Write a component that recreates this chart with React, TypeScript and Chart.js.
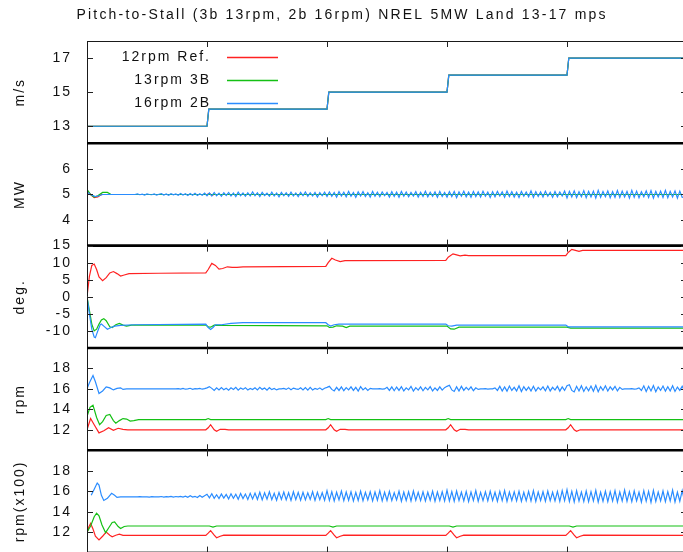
import React, { useEffect, useRef } from 'react';
import { Chart, registerables } from 'chart.js';

Chart.register(...registerables);

const FONT = '"Liberation Sans", Arial, Helvetica, sans-serif';
const TITLE = 'Pitch-to-Stall (3b 13rpm, 2b 16rpm) NREL 5MW Land 13-17 mps';
const SERIES_NAMES = ['12rpm Ref.', '13rpm 3B', '16rpm 2B'];
const SERIES_COLORS = ['#ff2222', '#14c014', '#2a8cff'];

const X_MIN = 0;
const X_MAX = 500;
const X_TICKS = [100, 200, 300, 400];

const PANEL_IDS = ['yWind', 'yPow', 'yPitch', 'yRpm', 'yGen'];
const PANEL_TITLES = ['m/s', 'MW', 'deg.', 'rpm', 'rpm(x100)'];
const PANEL_MIN = [12, 3, -15, 10, 10];
const PANEL_MAX = [18, 7, 15, 20, 20];
const PANEL_TICKS = [
  [13, 15, 17],
  [4, 5, 6],
  [-10, -5, 0, 5, 10, 15],
  [12, 14, 16, 18],
  [12, 14, 16, 18],
];

// sampled segments (regular time grid) start / step
const NOISE_T0 = 40;
const NOISE_DT = 2;

// ---------- wind speed (all three identical) ----------
const windKeys = [
  [0, 13], [100, 13], [101.5, 14], [200, 14], [201.5, 15], [300, 15],
  [301.5, 16], [400, 16], [401.5, 17], [500, 17],
];

// ---------- power (MW) ----------
const powRedKeys = [[0, 5.15], [3, 5.0], [6, 4.88], [9, 4.9], [12, 5.0], [100, 5.0], [102, 5.04], [104, 4.97], [106, 5.0], [500, 5.0]];
const powGreenKeys = [[0, 5.2], [3, 5.0], [6, 4.9], [9, 4.95], [13, 5.08], [17, 5.08], [20, 5.0], [500, 5.0]];
const powBlueKeys = [[0, 5.1], [3, 5.0], [7, 4.92], [10, 4.95], [13, 5.0], [38, 5.0]];
const powBlueSamples = [
  5.00, 5.02, 4.99, 5.01, 4.98, 5.02, 5.00, 4.99, 5.02, 4.98,
  5.01, 5.03, 4.98, 5.02, 4.97, 5.03, 4.99, 5.02, 4.97, 5.04,
  4.98, 5.03, 4.96, 5.04, 4.97, 5.05, 4.96, 5.03, 4.97, 5.05,
  4.95, 5.06, 4.94, 5.08, 4.95, 5.05, 4.93, 5.07, 4.96, 5.08,
  4.94, 5.06, 4.92, 5.09, 4.95, 5.06, 4.93, 5.07, 4.94, 5.10,
  4.95, 5.07, 4.92, 5.08, 4.96, 5.05, 4.93, 5.09, 4.94, 5.06,
  4.91, 5.08, 4.95, 5.07, 4.93, 5.09, 4.94, 5.06, 4.92, 5.08,
  4.95, 5.10, 4.93, 5.07, 4.94, 5.08, 4.90, 5.07, 4.95, 5.09,
  4.92, 5.10, 4.93, 5.08, 4.90, 5.11, 4.94, 5.09, 4.91, 5.12,
  4.93, 5.08, 4.89, 5.10, 4.94, 5.11, 4.92, 5.07, 4.90, 5.12,
  4.93, 5.09, 4.91, 5.10, 4.95, 5.08, 4.90, 5.11, 4.92, 5.09,
  4.89, 5.12, 4.93, 5.10, 4.91, 5.08, 4.94, 5.11, 4.90, 5.09,
  4.92, 5.13, 4.91, 5.09, 4.93, 5.10, 4.89, 5.12, 4.92, 5.08,
  4.90, 5.11, 4.92, 5.12, 4.88, 5.10, 4.93, 5.13, 4.91, 5.09,
  4.89, 5.12, 4.92, 5.10, 4.90, 5.13, 4.93, 5.09, 4.88, 5.11,
  4.91, 5.12, 4.94, 5.10, 4.89, 5.13, 4.92, 5.11, 4.90, 5.09,
  4.88, 5.12, 4.93, 5.10, 4.91, 5.14, 4.89, 5.11, 4.92, 5.10,
  4.90, 5.13, 4.93, 5.09, 4.89, 5.12, 4.91, 5.10, 4.94, 5.13,
  4.86, 5.12, 4.90, 5.14, 4.88, 5.11, 4.91, 5.15, 4.87, 5.12,
  4.90, 5.13, 4.86, 5.16, 4.89, 5.12, 4.91, 5.14, 4.87, 5.11,
  4.89, 5.15, 4.88, 5.13, 4.90, 5.12, 4.86, 5.16, 4.89, 5.13,
  4.87, 5.11, 4.91, 5.14, 4.88, 5.15, 4.86, 5.12, 4.90, 5.13,
  4.88, 5.16, 4.87, 5.12, 4.90, 5.14, 4.86, 5.13, 4.89, 4.90,
  5.10,
];

// ---------- blade pitch (deg) ----------
const pitchRedKeys = [
  [0, 0], [2, 6], [4, 9.2], [6, 9.6], [8, 8], [10, 5.8], [13, 4.7], [16, 5.6], [19, 7], [22, 7.4],
  [25, 6.8], [28, 6.1], [31, 6.4], [35, 6.8], [60, 6.9], [99, 7.0], [101, 8], [104, 9.8], [107, 9.2],
  [110, 8.1], [113, 8.3], [117, 8.8], [121, 8.6], [125, 8.6], [130, 8.8], [199, 8.9], [201, 10],
  [204, 11.3], [207, 10.8], [211, 10.3], [215, 10.6], [299, 10.7], [301, 11.6], [305, 12.6],
  [308, 12.3], [311, 12.0], [315, 12.2], [318, 12.1], [399, 12.1], [401, 13.0], [404, 13.9],
  [407, 13.6], [410, 13.3], [413, 13.6], [500, 13.6],
];
const pitchGreenKeys = [
  [0, 0], [2, -4], [4, -8], [6, -10], [8, -9.5], [10, -8], [12, -6.8], [14, -6.4], [16, -7], [19, -8.8],
  [21, -9], [24, -8.2], [27, -7.8], [30, -8.3], [33, -8.6], [37, -8.3], [99, -8.3], [101, -8.8],
  [103, -8.9], [106, -8.3], [112, -8.4], [200, -8.5], [202, -9], [205, -8.9], [208, -8.5], [213, -8.6],
  [216, -9], [219, -8.6], [300, -8.6], [303, -9.4], [306, -9.5], [310, -8.9], [400, -8.9], [403, -9.2],
  [500, -9.2],
];
const pitchBlueKeys = [
  [0, 0], [2, -5], [4, -9.5], [6, -11.8], [7, -12], [9, -10], [11, -8.2], [12, -8], [14, -8.6],
  [17, -9.5], [20, -9], [23, -8.6], [28, -8.4], [40, -8.2], [99, -8.0], [101, -9], [103, -9.6],
  [105, -9], [107, -8.2], [112, -8.2], [120, -7.8], [130, -7.6], [199, -7.6], [201, -8.2],
  [203, -8.6], [206, -8.2], [210, -8.0], [299, -8.0], [301, -8.5], [304, -8.6], [308, -8.3],
  [399, -8.3], [401, -8.8], [500, -8.8],
];

// ---------- rotor speed (rpm) ----------
const rpmRedKeys = [
  [0, 12], [3, 13.1], [6, 12.5], [10, 11.7], [14, 11.9], [18, 12.2], [22, 11.95], [26, 12.15], [30, 12.05],
  [34, 12.0], [99, 12.0], [101, 12.2], [103, 12.5], [106, 12.0], [108, 11.85], [111, 12.05], [115, 12.05],
  [118, 12.0], [199, 12.0], [201, 12.2], [203, 12.5], [206, 12.0], [208, 11.85], [211, 12.05], [215, 12.05],
  [218, 12.0], [299, 12.0], [301, 12.2], [303, 12.5], [306, 12.0], [308, 11.85], [311, 12.05], [315, 12.05],
  [318, 12.0], [399, 12.0], [401, 12.2], [403, 12.5], [406, 12.0], [408, 11.85], [411, 12.0], [500, 12.0],
];
const rpmGreenKeys = [
  [0, 13.3], [2.5, 14.2], [5, 14.4], [8, 13.2], [10.5, 12.5], [13, 12.8], [16, 13.4], [19, 13.5], [22, 12.9],
  [24, 12.65], [27, 12.9], [30, 13.1], [33, 13.05], [36, 12.85], [39, 12.9], [43, 13.0], [99, 13.0],
  [101, 13.1], [103, 13.0], [199, 13.0], [201, 13.1], [203, 13.0], [299, 13.0], [301, 13.1], [303, 13.0],
  [399, 13.0], [401, 13.1], [403, 13.0], [500, 13.0],
];
const rpmBlueKeys = [
  [0, 16], [2, 16.6], [5, 17.3], [7, 16.7], [10, 15.55], [13, 15.8], [16, 16.2], [19, 16.1], [22, 15.9],
  [25, 16.05], [28, 16.1], [30, 15.95], [33, 16.0], [38, 16.0],
];
const rpmBlueSamples = [
  16.0, 16.0, 16.0, 16.0, 16.0, 16.0, 16.0, 16.0, 16.0, 16.0,
  16.0, 16.0, 16.0, 16.0, 16.0, 16.0, 16.0, 16.0, 16.02, 15.98,
  16.05, 15.97, 16.0, 16.06, 15.96, 16.02, 16.0, 16.05, 15.97, 16.03,
  16.1, 16.22, 16.05, 15.85, 16.1, 15.9, 16.12, 15.92, 16.06, 15.88,
  16.1, 15.95, 16.15, 15.88, 16.08, 15.95, 16.12, 15.9, 16.05, 15.93,
  16.1, 15.9, 16.15, 15.95, 16.08, 15.87, 16.12, 15.93, 16.05, 15.9,
  16.0, 16.0, 16.05, 15.95, 16.1, 15.92, 16.08, 16.0, 15.95, 16.1,
  15.9, 16.12, 15.88, 16.15, 15.9, 16.05, 15.95, 16.1, 15.92, 16.06,
  16.15, 16.25, 15.95, 15.8, 16.15, 15.85, 16.2, 15.82, 16.12, 15.9,
  16.2, 15.85, 16.15, 15.78, 16.22, 15.9, 16.1, 15.85, 16.05, 16.0,
  16.0, 16.0, 16.02, 15.98, 16.0, 16.15, 15.85, 16.2, 15.82, 16.18,
  15.85, 16.22, 15.8, 16.1, 15.9, 16.25, 15.78, 16.12, 15.88, 16.2,
  15.82, 16.15, 15.9, 16.22, 15.8, 16.1, 15.85, 16.2, 15.88, 16.12,
  16.25, 16.35, 15.9, 15.75, 16.2, 15.8, 16.25, 15.85, 16.15, 15.9,
  16.2, 15.82, 16.1, 15.95, 16.0, 16.0, 16.02, 15.98, 16.0, 16.0,
  16.1, 15.85, 16.25, 15.8, 16.2, 15.78, 16.28, 15.85, 16.15, 15.8,
  16.3, 15.75, 16.22, 15.85, 16.18, 15.8, 16.25, 15.78, 16.15, 15.9,
  16.2, 15.82, 16.28, 15.8, 16.15, 15.88, 16.25, 15.78, 16.2, 15.85,
  16.3, 16.4, 15.85, 15.7, 16.25, 15.8, 16.3, 15.75, 16.2, 15.82,
  16.28, 15.78, 16.35, 15.72, 16.22, 15.85, 16.3, 15.8, 16.2, 15.9,
  16.25, 15.8, 16.15, 15.95, 16.0, 16.0, 16.0, 16.02, 15.98, 16.0,
  16.1, 15.85, 16.3, 15.75, 16.25, 15.8, 16.32, 15.72, 16.2, 15.85,
  16.28, 15.78, 16.22, 15.8, 16.3, 15.75, 16.18, 15.85, 16.25, 15.8,
  16.0,
];

// ---------- generator speed (rpm x100) ----------
const genRedKeys = [
  [0, 11.9], [1.5, 12.5], [3, 12.85], [5, 12.3], [7, 11.6], [10, 11.25], [13, 11.6], [16, 12.0], [19, 11.7],
  [21, 11.55], [24, 11.7], [27, 11.8], [30, 11.68], [99, 11.68], [101, 11.9], [103, 12.15], [106, 11.7],
  [108, 11.45], [111, 11.6], [114, 11.7], [199, 11.68], [201, 11.9], [203, 12.15], [206, 11.7], [208, 11.45],
  [211, 11.6], [214, 11.7], [299, 11.68], [301, 11.9], [303, 12.15], [306, 11.7], [308, 11.45], [311, 11.6],
  [314, 11.7], [399, 11.68], [401, 11.9], [403, 12.15], [406, 11.7], [408, 11.45], [411, 11.6], [414, 11.7],
  [500, 11.68],
];
const genGreenKeys = [
  [0, 12.0], [3, 12.6], [6, 13.5], [8, 13.85], [10, 13.6], [12.5, 12.7], [15.5, 11.95], [18, 12.4], [21, 12.95],
  [23, 13.0], [26, 12.55], [28, 12.35], [31, 12.55], [34, 12.6], [99, 12.6], [102, 12.6], [105, 12.5],
  [108, 12.6], [199, 12.6], [202, 12.6], [205, 12.5], [208, 12.6], [299, 12.6], [302, 12.6], [305, 12.5],
  [308, 12.6], [399, 12.6], [402, 12.6], [405, 12.5], [408, 12.6], [500, 12.6],
];
const genBlueKeys = [
  [3.5, 15.6], [6, 16.2], [8.5, 16.8], [10, 16.6], [12, 15.6], [14, 15.1], [17, 15.3], [20.5, 15.8],
  [23, 15.6], [25, 15.4], [28, 15.45], [38, 15.45],
];
const genBlueSamples = [
  15.45, 15.45, 15.47, 15.44, 15.46, 15.45, 15.43, 15.47, 15.45, 15.46,
  15.44, 15.48, 15.43, 15.47, 15.45, 15.5, 15.42, 15.48, 15.44, 15.5,
  15.42, 15.52, 15.4, 15.55, 15.42, 15.5, 15.38, 15.58, 15.4, 15.55,
  15.7, 15.35, 15.75, 15.3, 15.65, 15.28, 15.72, 15.32, 15.68, 15.25,
  15.75, 15.3, 15.7, 15.22, 15.78, 15.28, 15.72, 15.2, 15.8, 15.25,
  15.82, 15.2, 15.9, 15.15, 15.85, 15.22, 15.95, 15.18, 15.8, 15.12,
  15.88, 15.2, 15.92, 15.15, 15.85, 15.1, 15.95, 15.18, 15.88, 15.12,
  15.9, 15.15, 15.85, 15.2, 15.95, 15.1, 15.9, 15.18, 15.85, 15.12,
  16.05, 15.1, 15.95, 15.05, 15.9, 15.15, 16.0, 15.08, 15.92, 15.12,
  15.95, 15.05, 15.88, 15.1, 16.0, 15.08, 15.9, 15.15, 15.95, 15.05,
  15.92, 15.12, 16.05, 15.05, 15.9, 15.1, 15.98, 15.08, 15.85, 15.15,
  16.0, 15.02, 15.92, 15.1, 15.95, 15.05, 16.02, 15.12, 15.88, 15.08,
  15.95, 15.05, 15.9, 15.12, 16.0, 15.02, 15.92, 15.1, 15.95, 15.05,
  16.1, 15.05, 15.95, 15.02, 16.02, 15.1, 15.9, 15.05, 15.98, 15.0,
  15.92, 15.1, 16.05, 15.02, 15.88, 15.08, 15.95, 15.05, 16.0, 15.1,
  15.9, 15.02, 15.98, 15.08, 16.05, 15.0, 15.92, 15.1, 15.95, 15.05,
  16.0, 15.02, 15.9, 15.08, 15.98, 15.05, 16.05, 15.0, 15.92, 15.1,
  15.95, 15.02, 16.02, 15.08, 15.9, 15.05, 15.98, 15.0, 16.05, 15.08,
  16.15, 15.0, 15.98, 14.95, 16.05, 15.05, 15.92, 15.0, 16.02, 14.98,
  15.95, 15.05, 16.08, 14.95, 15.9, 15.02, 16.0, 14.98, 15.95, 15.05,
  16.05, 14.95, 15.92, 15.05, 16.1, 15.0, 15.95, 14.98, 16.02, 15.05,
  15.9, 14.95, 16.05, 15.02, 15.98, 14.92, 16.08, 15.0, 15.92, 15.05,
  16.02, 14.98, 15.95, 15.05, 16.1, 14.95, 15.9, 15.02, 16.05, 14.98,
  15.5,
];

type Pt = { x: number; y: number };

function buildSeries(keys: number[][], samples?: number[]): Pt[] {
  const pts: Pt[] = keys.map(([x, y]) => ({ x, y }));
  if (samples) {
    samples.forEach((y, i) => pts.push({ x: NOISE_T0 + i * NOISE_DT, y }));
  }
  return pts;
}

function makeDataset(data: Pt[], series: number, axis: string) {
  return {
    label: SERIES_NAMES[series],
    data,
    yAxisID: axis,
    borderColor: SERIES_COLORS[series],
    backgroundColor: SERIES_COLORS[series],
    borderWidth: 1.2,
    pointRadius: 0,
    tension: 0,
    fill: false,
    order: 3 - series,
  };
}

const decorPlugin = {
  id: 'decor',
  beforeDraw(chart: any) {
    chart.ctx.letterSpacing = '2px';
  },
  afterDraw(chart: any) {
    const ctx = chart.ctx as CanvasRenderingContext2D;
    const a = chart.chartArea;
    const xs = chart.scales.x;
    const topY = chart.scales[PANEL_IDS[0]].top;
    const botY = chart.scales[PANEL_IDS[PANEL_IDS.length - 1]].bottom;
    ctx.save();
    const line = (x1: number, y1: number, x2: number, y2: number) => {
      ctx.beginPath();
      ctx.moveTo(x1, y1);
      ctx.lineTo(x2, y2);
      ctx.stroke();
    };
    // frame
    ctx.strokeStyle = '#1a1a1a';
    ctx.lineWidth = 1;
    line(a.left + 0.5, topY, a.left + 0.5, botY);
    line(a.right - 0.5, topY, a.right - 0.5, botY);
    line(a.left, topY + 0.5, a.right, topY + 0.5);
    line(a.left, botY - 0.5, a.right, botY - 0.5);
    const edges: number[] = [topY];
    ctx.lineWidth = 2.6;
    ctx.strokeStyle = '#000';
    for (let i = 1; i < PANEL_IDS.length; i++) {
      const y = chart.scales[PANEL_IDS[i]].top;
      edges.push(y);
      line(a.left, y, a.right, y);
    }
    edges.push(botY);
    // x ticks (inward, mirrored on every border)
    ctx.lineWidth = 1;
    ctx.strokeStyle = '#222';
    edges.forEach((y, i) => {
      X_TICKS.forEach((t) => {
        const px = Math.round(xs.getPixelForValue(t)) + 0.5;
        const y1 = i === 0 ? y : y - 6;
        const y2 = i === edges.length - 1 ? y : y + 6;
        line(px, y1, px, y2);
      });
    });
    // y ticks (inward, both sides)
    PANEL_IDS.forEach((id, i) => {
      const s = chart.scales[id];
      PANEL_TICKS[i].forEach((v) => {
        const py = Math.round(s.getPixelForValue(v)) + 0.5;
        line(a.left, py, a.left + 6, py);
        line(a.right - 6, py, a.right, py);
      });
    });
    // legend (right-aligned text measured by hand, line sample to the right)
    ctx.font = `14px ${FONT}`;
    ctx.fillStyle = '#111';
    ctx.textAlign = 'left';
    ctx.textBaseline = 'middle';
    const spacing = 2;
    SERIES_NAMES.forEach((name, i) => {
      const y = 57 + i * 23;
      (ctx as any).letterSpacing = '0px';
      const w = ctx.measureText(name).width + spacing * (name.length - 1);
      (ctx as any).letterSpacing = `${spacing}px`;
      ctx.fillText(name, 209 - w, y);
      ctx.strokeStyle = SERIES_COLORS[i];
      ctx.lineWidth = 1.3;
      line(227, y + 0.5, 278, y + 0.5);
    });
    // title
    (ctx as any).letterSpacing = '0px';
    const tw = ctx.measureText(TITLE).width + 2.2 * (TITLE.length - 1);
    (ctx as any).letterSpacing = '2.2px';
    ctx.fillStyle = '#111';
    ctx.fillText(TITLE, 341 - tw / 2, 15);
    ctx.restore();
  },
};

function yAxis(i: number) {
  return {
    type: 'linear',
    position: 'left',
    stack: 'panels',
    stackWeight: 1,
    offset: false,
    min: PANEL_MIN[i],
    max: PANEL_MAX[i],
    grid: { display: false, drawTicks: false },
    border: { display: false },
    ticks: {
      padding: 15,
      color: '#111',
      autoSkip: false,
      font: { size: 14, family: FONT },
    },
    afterBuildTicks: (s: any) => {
      s.ticks = PANEL_TICKS[i].map((v) => ({ value: v }));
    },
    afterFit: (s: any) => {
      s.width = 87;
    },
    title: {
      display: true,
      text: PANEL_TITLES[i],
      color: '#111',
      font: { size: 14, family: FONT },
      padding: { top: 12, bottom: 0 },
    },
  };
}

export default function App() {
  const ref = useRef<HTMLCanvasElement | null>(null);
  useEffect(() => {
    if (!ref.current) return;
    const datasets: any[] = [];
    datasets.push(makeDataset(buildSeries(windKeys), 0, 'yWind'));
    datasets.push(makeDataset(buildSeries(windKeys), 1, 'yWind'));
    datasets.push(makeDataset(buildSeries(windKeys), 2, 'yWind'));
    datasets.push(makeDataset(buildSeries(powRedKeys), 0, 'yPow'));
    datasets.push(makeDataset(buildSeries(powGreenKeys), 1, 'yPow'));
    datasets.push(makeDataset(buildSeries(powBlueKeys, powBlueSamples), 2, 'yPow'));
    datasets.push(makeDataset(buildSeries(pitchRedKeys), 0, 'yPitch'));
    datasets.push(makeDataset(buildSeries(pitchGreenKeys), 1, 'yPitch'));
    datasets.push(makeDataset(buildSeries(pitchBlueKeys), 2, 'yPitch'));
    datasets.push(makeDataset(buildSeries(rpmRedKeys), 0, 'yRpm'));
    datasets.push(makeDataset(buildSeries(rpmGreenKeys), 1, 'yRpm'));
    datasets.push(makeDataset(buildSeries(rpmBlueKeys, rpmBlueSamples), 2, 'yRpm'));
    datasets.push(makeDataset(buildSeries(genRedKeys), 0, 'yGen'));
    datasets.push(makeDataset(buildSeries(genGreenKeys), 1, 'yGen'));
    datasets.push(makeDataset(buildSeries(genBlueKeys, genBlueSamples), 2, 'yGen'));

    const scales: any = {
      x: {
        type: 'linear',
        min: X_MIN,
        max: X_MAX,
        display: false,
      },
    };
    // stacked axes are placed bottom-up in definition order, so add them reversed
    [...PANEL_IDS].reverse().forEach((id) => {
      scales[id] = yAxis(PANEL_IDS.indexOf(id));
    });

    const chart = new Chart(ref.current, {
      type: 'line',
      data: { datasets },
      options: {
        responsive: false,
        animation: false,
        events: [],
        layout: { padding: { top: 41, right: 5, bottom: 3, left: 0 } },
        plugins: {
          legend: { display: false },
          title: { display: false },
          tooltip: { enabled: false },
        },
        scales,
      },
      plugins: [decorPlugin],
    } as any);
    return () => chart.destroy();
  }, []);

  return (
    <div style={{ position: 'fixed', left: 0, top: 0, width: 683, height: 552, overflow: 'hidden', background: '#fff' }}>
      <canvas ref={ref} width={692} height={576} style={{ display: 'block', width: 692, height: 576 }} />
    </div>
  );
}
